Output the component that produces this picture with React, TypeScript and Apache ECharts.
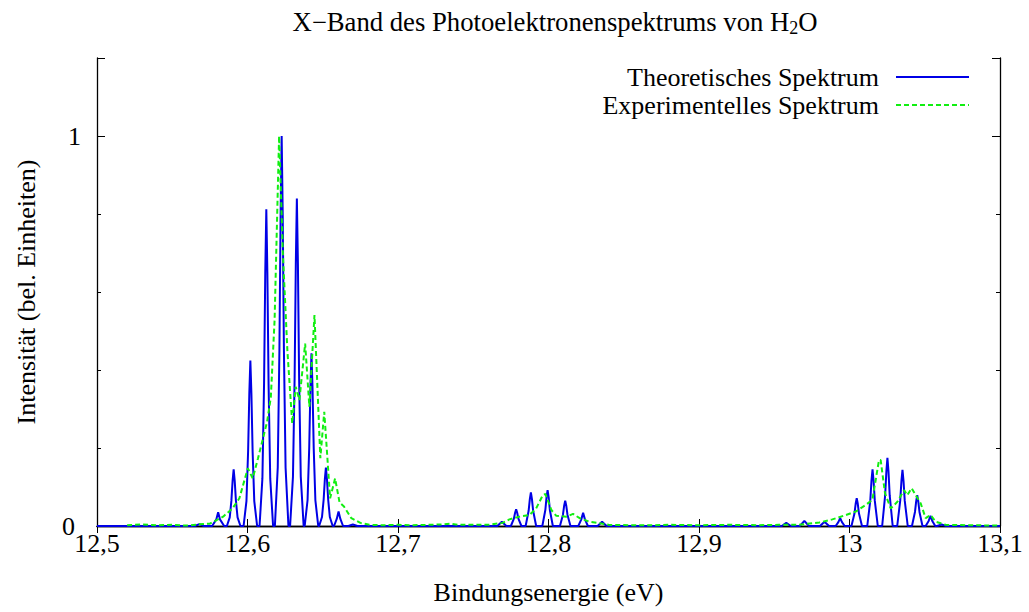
import React, { useEffect, useRef } from "react";
import * as echarts from "echarts";

const TITLE = "X\u2212Band des Photoelektronenspektrums von H{sub|2}O";
const X_NAME = "Bindungsenergie (eV)";
const Y_NAME = "Intensität (bel. Einheiten)";
const SERIES_NAMES = ["Theoretisches Spektrum", "Experimentelles Spektrum"];

// Theoretical spectrum (blue), explicit points
const theoBand1: [number, number][] = [
  [12.5, 0], [12.565, 0], [12.568, 0.005], [12.571, 0],
  [12.5765, 0], [12.5793, 0.017], [12.5805, 0.035], [12.5817, 0.017], [12.5845, 0],
  [12.5863, 0], [12.5882, 0.022], [12.5893, 0.065], [12.5901, 0.116], [12.5908, 0.145], [12.5915, 0.116], [12.5923, 0.065], [12.5934, 0.022], [12.5953, 0],
  [12.5974, 0], [12.5993, 0.064], [12.6004, 0.191], [12.6012, 0.339], [12.6019, 0.424], [12.6026, 0.339], [12.6034, 0.191], [12.6045, 0.064], [12.6064, 0],
  [12.608, 0], [12.6099, 0.122], [12.611, 0.365], [12.6118, 0.65], [12.6125, 0.812], [12.6132, 0.65], [12.614, 0.365], [12.6151, 0.122], [12.617, 0],
  [12.6182, 0], [12.6201, 0.15], [12.6212, 0.45], [12.622, 0.8], [12.6227, 1.0], [12.6234, 0.8], [12.6242, 0.45], [12.6253, 0.15], [12.6272, 0],
  [12.6283, 0], [12.6302, 0.126], [12.6313, 0.378], [12.6321, 0.672], [12.6328, 0.84], [12.6335, 0.672], [12.6343, 0.378], [12.6354, 0.126], [12.6373, 0],
  [12.638, 0], [12.6399, 0.066], [12.641, 0.199], [12.6418, 0.354], [12.6425, 0.443], [12.6432, 0.354], [12.644, 0.199], [12.6451, 0.066], [12.647, 0],
  [12.6476, 0], [12.6495, 0.023], [12.6506, 0.068], [12.6514, 0.12], [12.6521, 0.15], [12.6528, 0.12], [12.6536, 0.068], [12.6547, 0.023], [12.6566, 0],
  [12.6575, 0], [12.6593, 0.018], [12.6605, 0.037], [12.6617, 0.018], [12.6635, 0],
  [12.667, 0], [12.67, 0.004], [12.673, 0],
];
const theoBand2: [number, number][] = [
  [12.766, 0], [12.769, 0.011], [12.772, 0],
  [12.775, 0], [12.777, 0.019], [12.7778, 0.034], [12.7785, 0.043], [12.7792, 0.034], [12.78, 0.019], [12.782, 0],
  [12.7848, 0], [12.7868, 0.039], [12.7876, 0.069], [12.7883, 0.086], [12.789, 0.069], [12.7898, 0.039], [12.7918, 0],
  [12.7959, 0], [12.7979, 0.041], [12.7987, 0.074], [12.7994, 0.092], [12.8001, 0.074], [12.8009, 0.041], [12.8029, 0],
  [12.8076, 0], [12.8096, 0.029], [12.8104, 0.052], [12.8111, 0.065], [12.8118, 0.052], [12.8126, 0.029], [12.8146, 0],
  [12.8198, 0], [12.8218, 0.017], [12.823, 0.034], [12.8242, 0.017], [12.8262, 0],
  [12.8326, 0], [12.8356, 0.011], [12.8386, 0],
];
const theoBand3: [number, number][] = [
  [12.955, 0], [12.958, 0.008], [12.961, 0],
  [12.967, 0], [12.97, 0.013], [12.973, 0],
  [12.9804, 0], [12.9834, 0.011], [12.9864, 0],
  [12.9908, 0], [12.9926, 0.01], [12.9938, 0.02], [12.995, 0.01], [12.9968, 0],
  [13.0013, 0], [13.0033, 0.032], [13.0041, 0.057], [13.0048, 0.071], [13.0055, 0.057], [13.0063, 0.032], [13.0083, 0],
  [13.0118, 0], [13.0138, 0.065], [13.0146, 0.116], [13.0153, 0.145], [13.016, 0.116], [13.0168, 0.065], [13.0188, 0],
  [13.0217, 0], [13.0237, 0.079], [13.0245, 0.14], [13.0252, 0.175], [13.0259, 0.14], [13.0267, 0.079], [13.0287, 0],
  [13.0317, 0], [13.0337, 0.065], [13.0345, 0.115], [13.0352, 0.144], [13.0359, 0.115], [13.0367, 0.065], [13.0387, 0],
  [13.0415, 0], [13.0435, 0.036], [13.0443, 0.063], [13.045, 0.079], [13.0457, 0.063], [13.0465, 0.036], [13.0485, 0],
  [13.0506, 0], [13.0526, 0.013], [13.0538, 0.026], [13.055, 0.013], [13.057, 0],
  [13.0582, 0], [13.0612, 0.004], [13.0642, 0], [13.1, 0],
];

// Experimental spectrum (green dashed)
const expBand1: [number, number][] = [
  [12.52, 0.002], [12.53, 0.004], [12.54, 0.002], [12.55, 0.003], [12.56, 0.001],
  [12.567, 0.004], [12.575, 0.006], [12.5838, 0.024], [12.59, 0.045], [12.5946, 0.071],
  [12.6002, 0.148], [12.6035, 0.122], [12.607, 0.174], [12.61, 0.22], [12.613, 0.267],
  [12.6155, 0.33], [12.618, 0.528], [12.621, 1.0], [12.6235, 0.7], [12.6265, 0.45],
  [12.6297, 0.263], [12.632, 0.357], [12.6345, 0.323], [12.6383, 0.468], [12.6411, 0.306],
  [12.6445, 0.541], [12.6484, 0.174], [12.651, 0.293], [12.6549, 0.071], [12.6582, 0.122],
  [12.6612, 0.06], [12.6641, 0.05], [12.669, 0.02], [12.675, 0.008], [12.681, 0.003],
  [12.69, 0.002], [12.7, 0.003], [12.71, 0.002], [12.72, 0.003], [12.73, 0.004],
  [12.735, 0.006], [12.74, 0.003],
];
const expBand2: [number, number][] = [
  [12.747, 0.003], [12.76, 0.003], [12.7695, 0.008], [12.774, 0.017], [12.7807, 0.024],
  [12.7873, 0.028], [12.7918, 0.045], [12.7962, 0.079], [12.798, 0.082], [12.8019, 0.041],
  [12.8052, 0.026], [12.8119, 0.024], [12.8163, 0.031], [12.8207, 0.02], [12.8273, 0.011],
  [12.834, 0.007], [12.84, 0.003], [12.8537, 0.002], [12.87, 0.002], [12.88, 0.003],
  [12.9, 0.002], [12.92, 0.003], [12.94, 0.002],
];
const expBand3: [number, number][] = [
  [12.953, 0.003], [12.966, 0.003], [12.98, 0.009], [12.9886, 0.017], [12.9975, 0.028],
  [13.0041, 0.037], [13.0108, 0.054], [13.0152, 0.067], [13.0174, 0.118], [13.0196, 0.169],
  [13.0207, 0.169], [13.0236, 0.084], [13.0274, 0.045], [13.0318, 0.062], [13.0362, 0.092],
  [13.0384, 0.079], [13.0413, 0.097], [13.044, 0.079], [13.0473, 0.058], [13.0506, 0.02],
  [13.0539, 0.028], [13.0572, 0.011], [13.0639, 0.003], [13.08, 0.002], [13.1, 0.001],
];

const X_MIN = 12.5;
const X_MAX = 13.1;
const X_STEP = 0.1;
const Y_MIN = 0;
const Y_MAX = 1.2;
const Y_STEP = 0.2;
const Y_MAJOR_STEP = 1;
const Y_LABELED = [0, 1];

const FONT = "'Liberation Serif', 'Times New Roman', serif";
const FS = 26;

export default function App() {
  const ref = useRef<HTMLDivElement>(null);
  useEffect(() => {
    document.body.style.margin = "0";
    const chart = echarts.init(ref.current!, null, { renderer: "svg" });
    const fmtX = (v: number) => String(Math.round(v * 10) / 10).replace(".", ",");
    const fmtY = (v: number) => {
      const hit = Y_LABELED.find((l) => Math.abs(l - v) < 1e-9);
      if (hit === undefined) return "";
      return hit === 0 ? "{zero|0}" : String(hit);
    };
    const axisLine = { show: true, lineStyle: { color: "#000", width: 1.3 } };
    const hiddenAxis = {
      axisLine: { show: false },
      axisLabel: { show: false },
      splitLine: { show: false },
    };
    chart.setOption({
      animation: false,
      backgroundColor: "#fff",
      textStyle: { fontFamily: FONT },
      title: {
        text: TITLE,
        left: 550,
        textAlign: "center",
        top: 2,
        textStyle: {
          fontFamily: FONT,
          fontSize: 26.7,
          fontWeight: "normal",
          color: "#000",
          rich: {
            sub: { fontFamily: FONT, fontSize: 18, color: "#000", padding: [12, 0, 0, 0] },
          },
        },
      },
      legend: {
        orient: "vertical",
        right: 59,
        top: 63,
        padding: 0,
        align: "right",
        itemWidth: 73,
        itemHeight: 14,
        itemGap: 0,
        itemStyle: { opacity: 0 },
        textStyle: { fontFamily: FONT, fontSize: FS, color: "#000", padding: [0, 12, 0, 0], lineHeight: 28 },
        data: SERIES_NAMES,
      },
      grid: { left: 97, right: 29, top: 58, bottom: 86 },
      xAxis: [
        {
          type: "value",
          min: X_MIN,
          max: X_MAX,
          interval: X_STEP,
          name: X_NAME,
          nameLocation: "middle",
          nameGap: 53,
          nameTextStyle: { fontFamily: FONT, fontSize: FS, color: "#000" },
          axisLine,
          axisTick: { show: true, inside: true, length: 7, lineStyle: { color: "#000" } },
          axisLabel: { formatter: fmtX, fontFamily: FONT, fontSize: FS, color: "#000", margin: 7, lineHeight: 20 },
          splitLine: { show: false },
        },
        {
          type: "value",
          position: "top",
          min: X_MIN,
          max: X_MAX,
          interval: X_STEP,
          axisLine,
          axisTick: { show: true, inside: true, length: 7, lineStyle: { color: "#000" } },
          axisLabel: { show: false },
          splitLine: { show: false },
        },
      ],
      yAxis: [
        {
          type: "value",
          min: Y_MIN,
          max: Y_MAX,
          interval: Y_STEP,
          name: Y_NAME,
          nameLocation: "middle",
          nameGap: 58,
          nameTextStyle: { fontFamily: FONT, fontSize: FS, color: "#000" },
          axisLine,
          axisTick: { show: true, inside: true, length: 4, lineStyle: { color: "#000" } },
          axisLabel: {
            formatter: fmtY,
            fontFamily: FONT,
            fontSize: FS,
            color: "#000",
            margin: 16,
            lineHeight: 18,
            rich: { zero: { fontFamily: FONT, fontSize: FS, color: "#000", padding: [0, 6, 0, 0] } },
          },
          splitLine: { show: false },
        },
        {
          type: "value",
          position: "right",
          min: Y_MIN,
          max: Y_MAX,
          interval: Y_STEP,
          axisLine,
          axisTick: { show: true, inside: true, length: 4, lineStyle: { color: "#000" } },
          axisLabel: { show: false },
          splitLine: { show: false },
        },
        {
          type: "value",
          position: "left",
          min: Y_MIN,
          max: Y_MAX,
          interval: Y_MAJOR_STEP,
          axisTick: { show: true, inside: true, length: 8, lineStyle: { color: "#000" } },
          ...hiddenAxis,
        },
        {
          type: "value",
          position: "right",
          min: Y_MIN,
          max: Y_MAX,
          interval: Y_MAJOR_STEP,
          axisTick: { show: true, inside: true, length: 8, lineStyle: { color: "#000" } },
          ...hiddenAxis,
        },
      ],
      series: [
        {
          name: SERIES_NAMES[0],
          type: "line",
          xAxisIndex: 0,
          yAxisIndex: 0,
          symbol: "none",
          data: [...theoBand1, ...theoBand2, ...theoBand3],
          lineStyle: { color: "#0000e6", width: 2 },
          itemStyle: { color: "#0000e6" },
          z: 2,
        },
        {
          name: SERIES_NAMES[1],
          type: "line",
          xAxisIndex: 0,
          yAxisIndex: 0,
          symbol: "none",
          data: [...expBand1, ...expBand2, ...expBand3],
          lineStyle: { color: "#11ee11", width: 2, type: [5, 3] },
          itemStyle: { color: "#11ee11" },
          z: 3,
        },
      ],
    });
    return () => chart.dispose();
  }, []);
  return (
    <div
      ref={ref}
      style={{ position: "fixed", left: 0, top: 0, width: 1029, height: 612, background: "#fff" }}
    />
  );
}
